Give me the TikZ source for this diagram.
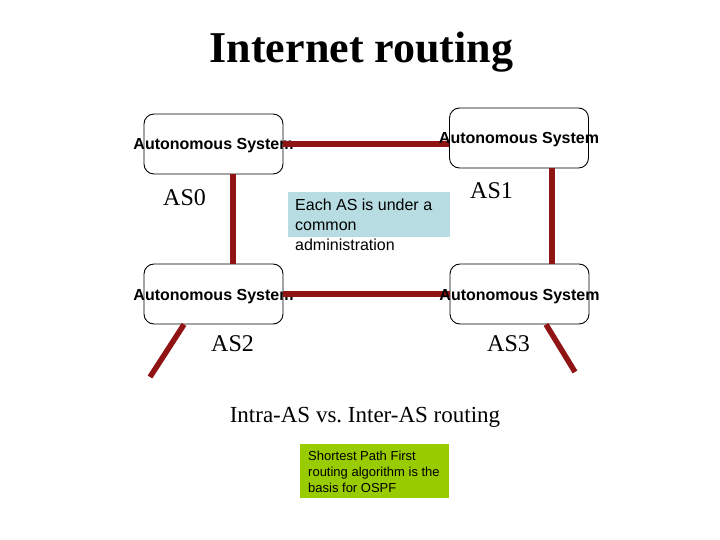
\documentclass[tikz,border=0pt]{standalone}
\usepackage{fontspec}
\setmainfont{Liberation Serif}
\setsansfont{Liberation Sans}
\frenchspacing
\definecolor{linkred}{RGB}{145,20,20}
\definecolor{noteblue}{RGB}{183,221,226}
\definecolor{notegreen}{RGB}{153,204,0}
\tikzset{
  asbox/.style={draw=black, line width=0.9pt, rounded corners=10pt, minimum width=139pt, minimum height=60pt, inner sep=0pt},
  astext/.style={font=\sffamily\bfseries\fontsize{16}{19}\selectfont, inner sep=0pt, anchor=base, yshift=-6pt},
  aslabel/.style={font=\fontsize{24}{28}\selectfont, anchor=base west, inner sep=0pt},
  link/.style={draw=linkred, line width=5.5pt},
  notetext/.style={font=\sffamily\fontsize{16}{19}\selectfont, anchor=base west, inner sep=0pt},
  smalltext/.style={font=\sffamily\fontsize{13}{16}\selectfont, anchor=base west, inner sep=0pt}
}
\begin{document}
\begin{tikzpicture}[x=1pt, y=-1pt]
\useasboundingbox (0,0) rectangle (720,540);
% title
\node[anchor=base, inner sep=0pt, font=\bfseries\fontsize{44}{50}\selectfont] (title) at (361.5,63) {Internet routing};
% boxes
\node[asbox] (as0) at (213.5,144) {};
\node[asbox] (as1) at (519,138) {};
\node[asbox] (as2) at (213.5,294) {};
\node[asbox] (as3) at (519.5,294) {};
\node[astext] (t0) at (as0.center) {Autonomous System};
\node[astext] (t2) at (as2.center) {Autonomous System};
% links
\coordinate (e2) at (150,377);
\coordinate (e3) at (575,372);
\draw[link] (as0.east) -- (as0.east -| as1.west);
\draw[link] ([xshift=19.5pt]as0.south) -- ([xshift=19.5pt]as2.north);
\draw[link] ([xshift=33pt]as1.south) -- ([xshift=32.5pt]as3.north);
\draw[link] (as2.east) -- (as3.west);
\draw[link] ([xshift=-29.5pt]as2.south) -- (e2);
\draw[link] ([xshift=26.5pt]as3.south) -- (e3);
\node[astext] (t1) at (as1.center) {Autonomous System};
\node[astext] (t3) at (as3.center) {Autonomous System};
% AS labels
\node[aslabel] (l0) at (163,206) {AS0};
\node[aslabel] (l1) at (470,199) {AS1};
\node[aslabel] (l2) at (211,351) {AS2};
\node[aslabel] (l3) at (487,351) {AS3};
% blue note
\node[fill=noteblue, minimum width=162pt, minimum height=45pt, inner sep=0pt, anchor=north west] (bluebox) at (288,192) {};
\node[notetext] (n1) at (295,211) {Each AS is under a};
\node[notetext] (n2) at (295,230) {common};
\node[notetext] (n3) at (295,250) {administration};
% subtitle
\node[anchor=base, inner sep=0pt, font=\fontsize{23}{28}\selectfont] (sub) at (365,422) {Intra-AS vs. Inter-AS routing};
% green note
\node[fill=notegreen, minimum width=149pt, minimum height=54pt, inner sep=0pt, anchor=north west] (greenbox) at (300,444) {};
\node[smalltext] (g1) at (308,460) {Shortest Path First};
\node[smalltext] (g2) at (308,476) {routing algorithm is the};
\node[smalltext] (g3) at (308,492) {basis for OSPF};
\end{tikzpicture}
\end{document}
